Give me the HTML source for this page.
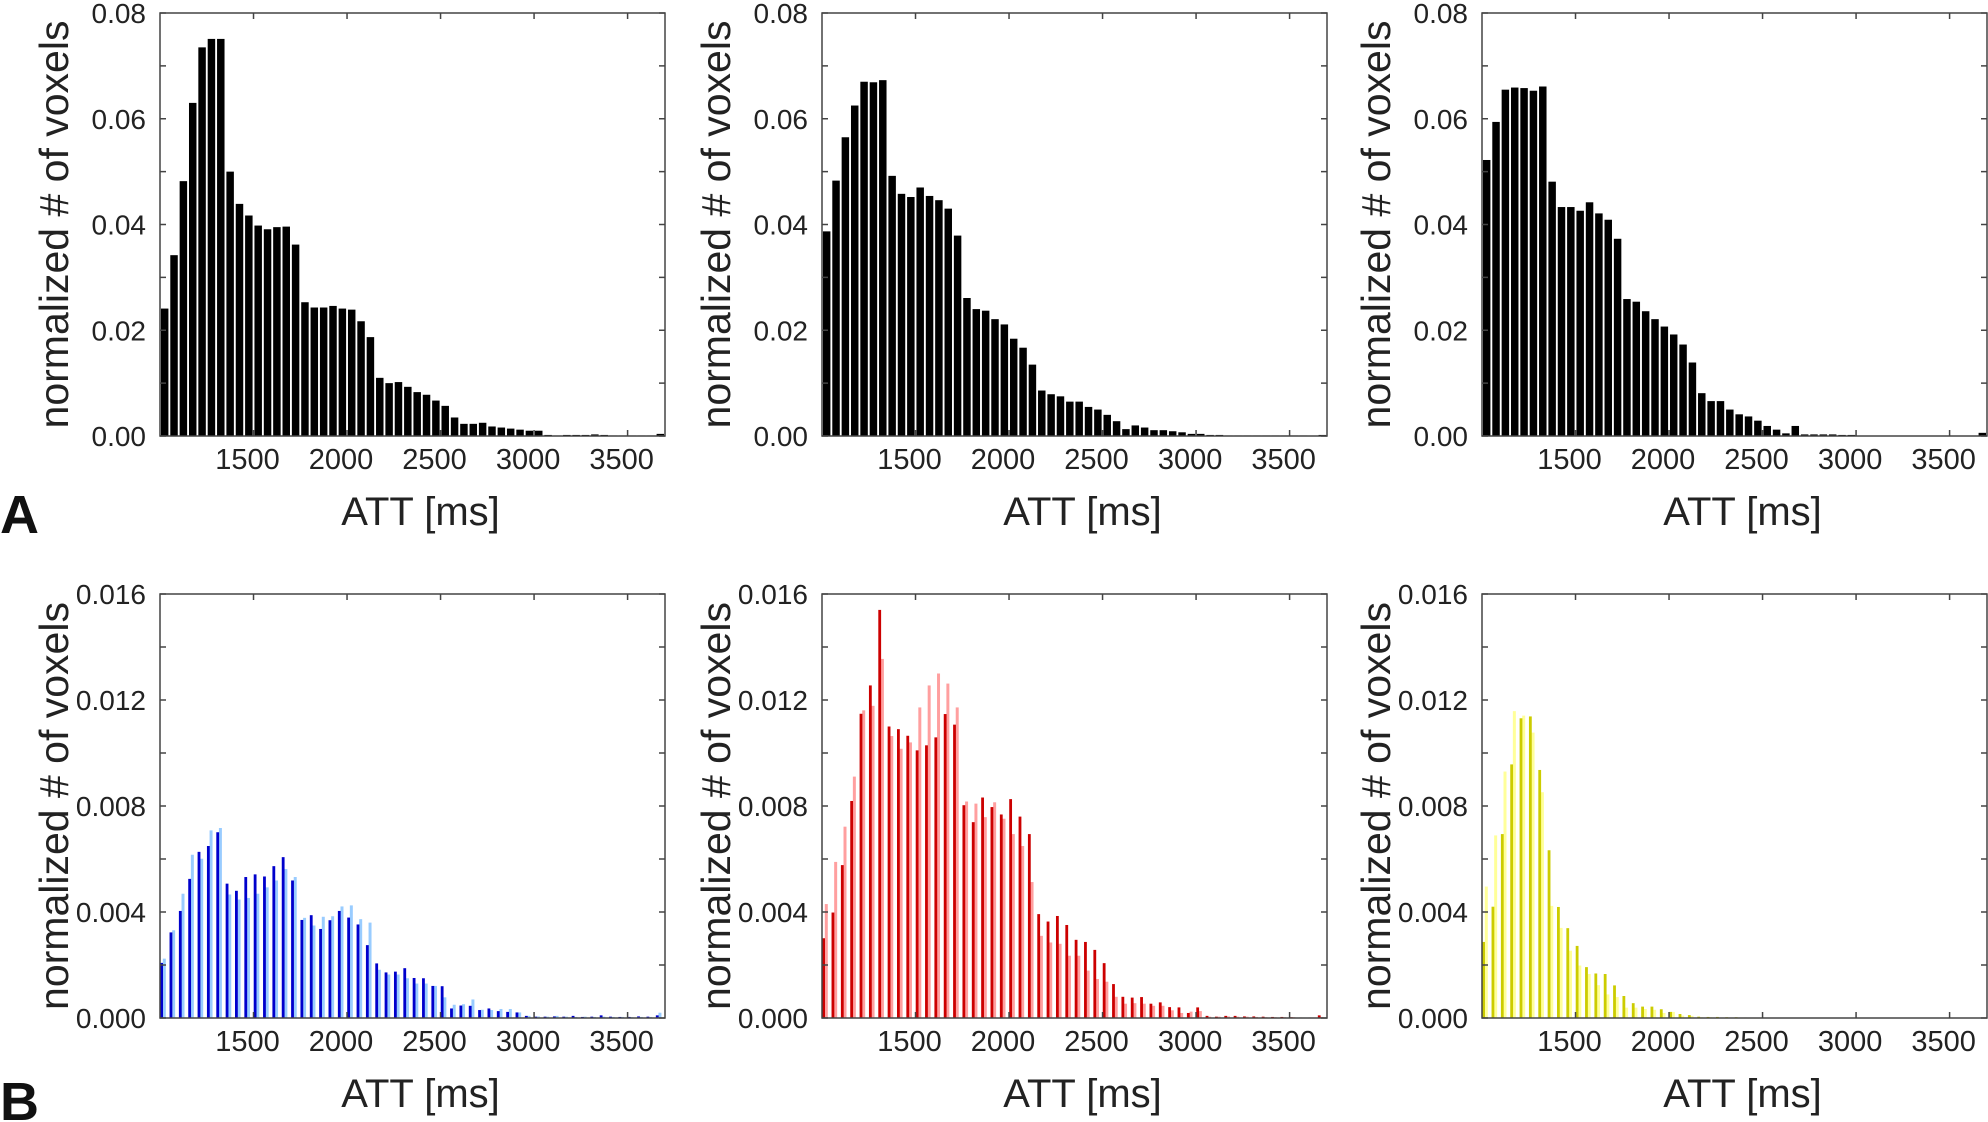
<!DOCTYPE html>
<html><head><meta charset="utf-8"><style>
html,body{margin:0;padding:0;background:#fff;}
svg{display:block;font-family:"Liberation Sans",Arial,sans-serif;}
</style></head><body>
<svg id="fig" width="1988" height="1122" viewBox="0 0 1988 1122" xmlns="http://www.w3.org/2000/svg">
<text x="0" y="533" font-size="54" font-weight="bold" fill="#111">A</text>
<text x="0" y="1120" font-size="54" font-weight="bold" fill="#111">B</text>
</svg>
<script>
const binStarts = [1000,1050,1100,1150,1200,1250,1300,1350,1400,1450,1500,1550,1600,1650,1700,1750,1800,1850,1900,1950,2000,2050,2100,2150,2200,2250,2300,2350,2400,2450,2500,2550,2600,2650,2700,2750,2800,2850,2900,2950,3000,3050,3100,3150,3200,3250,3300,3350,3400,3450,3500,3550,3600,3650];
const xTickValues = [1500,2000,2500,3000,3500];
const xTickLabels = ["1500","2000","2500","3000","3500"];
const yTicksTop = [0,0.01,0.02,0.03,0.04,0.05,0.06,0.07,0.08];
const yTickLabelsTop = ["0.00","","0.02","","0.04","","0.06","","0.08"];
const yTicksBottom = [0,0.002,0.004,0.006,0.008,0.010,0.012,0.014,0.016];
const yTickLabelsBottom = ["0.000","","0.004","","0.008","","0.012","","0.016"];

const tlValues = [.0241,.0342,.0482,.0630,.0735,.0751,.0751,.0500,.0439,.0417,.0398,.0391,.0395,.0396,.0362,.0253,.0243,.0243,.0246,.0241,.0239,.0217,.0187,.0110,.0100,.0102,.0093,.0083,.0078,.0067,.0057,.0035,.0023,.0023,.0025,.0018,.0016,.0014,.0012,.0010,.0010,.0002,.0001,.0002,.0002,.0002,.0003,.0002,.0001,.0001,.0001,.0001,.0001,.0004];
const tmValues = [.0387,.0483,.0565,.0625,.0670,.0669,.0673,.0492,.0458,.0452,.0470,.0454,.0446,.0430,.0379,.0261,.0240,.0237,.0221,.0211,.0184,.0167,.0135,.0086,.0079,.0075,.0065,.0065,.0055,.0050,.0040,.0028,.0013,.0020,.0016,.0011,.0011,.0009,.0007,.0004,.0004,.0002,.0002,.0001,.0001,.0001,.0001,.0001,.0001,.0001,.0001,.0001,.0000,.0002];
const trValues = [.0522,.0594,.0655,.0659,.0658,.0653,.0661,.0481,.0433,.0433,.0426,.0442,.0421,.0409,.0373,.0259,.0254,.0236,.0221,.0207,.0192,.0173,.0139,.0081,.0066,.0066,.0050,.0041,.0037,.0029,.0019,.0012,.0005,.0019,.0003,.0003,.0003,.0003,.0002,.0002,0,0,0,0,0,0,0,0,0,0,0,0,0,.0006];
const blDark = [.00208,.00323,.00404,.00525,.00627,.00649,.00701,.00507,.0048,.00532,.00542,.00534,.00573,.00607,.00519,.0037,.00388,.00336,.00369,.00404,.00379,.00353,.00275,.00206,.00172,.00175,.00188,.00151,.0015,.00121,.0012,.00036,.00047,.00046,.0003,.00036,.00026,.00023,.00021,.00008,.00005,.00005,.00006,.00005,.00008,.00004,.00005,.0001,.00005,.00004,.00004,.00006,.00005,.0001];
const blLight = [.00224,.00331,.00469,.00616,.00601,.00708,.00717,.00466,.00447,.00453,.00469,.00493,.00519,.00562,.00532,.00378,.00349,.00382,.00384,.00421,.00425,.00373,.0036,.00182,.00164,.00164,.0015,.0013,.0013,.00121,.00078,.0005,.00052,.0007,.00031,.0003,.00034,.00034,.00021,.00008,.00006,.00005,.00008,.00005,.00004,.00005,.00004,.00005,.00004,.00004,.00003,.00004,.00004,.0002];
const bmDark = [.00301,.00398,.00577,.00819,.01148,.01255,.0154,.011,.0109,.01065,.0101,.01029,.01059,.01147,.01107,.00803,.00739,.00832,.00796,.00768,.00826,.0076,.00694,.00392,.00364,.00385,.00351,.00295,.00287,.00257,.00207,.00128,.0008,.00077,.00079,.00054,.00059,.00041,.0004,.00019,.0004,.00008,.00005,.00008,.00008,.00006,.00006,.00005,.00004,.00004,.00003,.00002,.00002,.0001];
const bmLight = [.0043,.00589,.00722,.00911,.01161,.01178,.01355,.01064,.01016,.0104,.01172,.01255,.013,.01262,.01172,.00817,.00809,.00758,.00814,.00752,.00694,.00649,.00513,.0031,.00285,.0028,.00235,.00235,.00179,.00147,.00137,.0008,.00054,.00056,.00054,.00046,.00046,.00029,.00019,.00024,.00026,.00005,.00005,.00006,.00005,.00005,.00004,.00003,.00003,.00003,.00003,.00002,.00002,.00004];
const brDark = [.00287,.0042,.00694,.00957,.01131,.01138,.00936,.00633,.00419,.00339,.00272,.00192,.00168,.00166,.00123,.00083,.00056,.00043,.00043,.00033,.00023,.00015,.00011,.00005,.00004,.00004,.00003,.00003,.00002,.00001,0,0,0,0,0,0,0,0,0,0,0,0,0,0,0,0,0,0,0,0,0,0,0,0];
const brLight = [.00496,.00689,.0093,.01158,.01141,.01077,.00852,.00423,.0034,.00254,.00198,.00166,.00124,.00089,.00079,.00039,.00039,.00034,.00031,.00019,.00023,.00009,.00008,.00003,.00003,.00002,.00002,.00001,.00001,.00001,0,0,0,0,0,0,0,0,0,0,0,0,0,0,0,0,0,0,0,0,0,0,0,0];

const NS = "http://www.w3.org/2000/svg";
const svg = document.getElementById("fig");
const X_MIN = 1000, X_MAX = 3700, BIN = 50;

function mk(tag, attrs, parent){
  const e = document.createElementNS(NS, tag);
  for (const k in attrs) e.setAttribute(k, attrs[k]);
  parent.appendChild(e);
  return e;
}

function drawPanel(p){
  const g = mk("g", {}, svg);
  
  
  const W = 505, H = p.bottom - p.top;
  const xs = v => p.left + (v - X_MIN) / (X_MAX - X_MIN) * W;
  const ys = v => p.bottom - v / p.yMax * H;
  const bw = xs(X_MIN + BIN) - xs(X_MIN);
  const barsG = mk("g", {}, g);
  
  
  p.series.forEach((s, si) => {
    s.values.forEach((v, i) => {
      if (v <= 0) return;
      const x0 = xs(binStarts[i]) + s.off * bw;
      const y = ys(v);
      const r = mk("rect", {x: x0.toFixed(2), y: y.toFixed(2), width: (s.w * bw).toFixed(2), height: Math.max(0.8, p.bottom - y).toFixed(2), fill: s.color}, barsG);
      
      
    });
  });
  const frame = mk("rect", {x: p.left, y: p.top, width: W, height: H, fill: "none", stroke: "#444", "stroke-width": 1.5}, g);
  
  
  p.yTicks.forEach((t, i) => {
    const y = ys(t);
    mk("line", {x1: p.left, x2: p.left + 6, y1: y, y2: y, stroke: "#444", "stroke-width": 1.5}, g);
    mk("line", {x1: p.left + W - 6, x2: p.left + W, y1: y, y2: y, stroke: "#444", "stroke-width": 1.5}, g);
    if (p.yLabels[i]) {
      const tx = mk("text", {x: p.left - 14, y: y + 10, "font-size": 28, "text-anchor": "end", fill: "#222"}, g);
      tx.textContent = p.yLabels[i];
      
      
    }
  });
  xTickValues.forEach((t, i) => {
    const x = xs(t);
    mk("line", {x1: x, x2: x, y1: p.top, y2: p.top + 6, stroke: "#444", "stroke-width": 1.5}, g);
    mk("line", {x1: x, x2: x, y1: p.bottom - 6, y2: p.bottom, stroke: "#444", "stroke-width": 1.5}, g);
    const tx = mk("text", {x: x - 6, y: p.bottom + 33, "font-size": 29, "text-anchor": "middle", fill: "#222"}, g);
    tx.textContent = xTickLabels[i];
    
    
  });
  const xl = mk("text", {x: p.left + W / 2 + 8, y: p.bottom + 89, "font-size": 40, "text-anchor": "middle", fill: "#222"}, g);
  xl.textContent = "ATT [ms]";
  
  
  const cy = (p.top + p.bottom) / 2;
  const cx = p.left - 92;
  const yl = mk("text", {x: cx, y: cy, "font-size": 41, "text-anchor": "middle", fill: "#222", transform: "rotate(-90 " + cx + " " + cy + ")"}, g);
  yl.textContent = "normalized # of voxels";
  
  
}

const lefts = [160, 822, 1482];
const topRow = {top: 13, bottom: 436, yMax: 0.08, yTicks: yTicksTop, yLabels: yTickLabelsTop};
const botRow = {top: 594, bottom: 1018, yMax: 0.016, yTicks: yTicksBottom, yLabels: yTickLabelsBottom};

drawPanel(Object.assign({name: "histogram-top-left", left: lefts[0], series: [{values: tlValues, color: "#000", off: 0.1, w: 0.8, label: "tl"}]}, topRow));
drawPanel(Object.assign({name: "histogram-top-middle", left: lefts[1], series: [{values: tmValues, color: "#000", off: 0.1, w: 0.8, label: "tm"}]}, topRow));
drawPanel(Object.assign({name: "histogram-top-right", left: lefts[2], series: [{values: trValues, color: "#000", off: 0.1, w: 0.8, label: "tr"}]}, topRow));
drawPanel(Object.assign({name: "histogram-bottom-left", left: lefts[0], series: [{values: blLight, color: "#99ccff", off: 0.3, w: 0.32, label: "bl-light"}, {values: blDark, color: "#0000cc", off: 0.02, w: 0.3, label: "bl-dark"}]}, botRow));
drawPanel(Object.assign({name: "histogram-bottom-middle", left: lefts[1], series: [{values: bmLight, color: "#ff9f9f", off: 0.3, w: 0.32, label: "bm-light"}, {values: bmDark, color: "#cc0000", off: 0.02, w: 0.3, label: "bm-dark"}]}, botRow));
drawPanel(Object.assign({name: "histogram-bottom-right", left: lefts[2], series: [{values: brLight, color: "#ffff99", off: 0.3, w: 0.32, label: "br-light"}, {values: brDark, color: "#cccc00", off: 0.02, w: 0.3, label: "br-dark"}]}, botRow));
</script>
</body></html>
